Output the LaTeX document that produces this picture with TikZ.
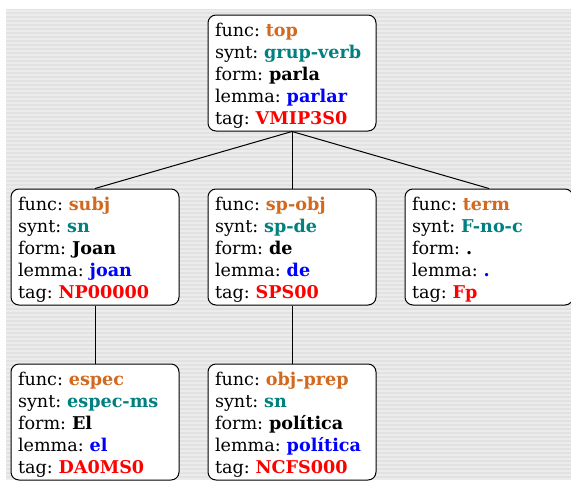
\documentclass[tikz,border=0pt]{standalone}
\usepackage{fontspec}
\setmainfont{DejaVu Serif}
\definecolor{funcc}{RGB}{210,105,30}
\definecolor{syntc}{RGB}{0,128,128}
\definecolor{lemmac}{RGB}{0,0,255}
\definecolor{tagc}{RGB}{255,0,0}
\definecolor{bgc}{RGB}{226,226,226}
\definecolor{stripec}{RGB}{236,236,236}
\newcommand{\featbox}[5]{func: \textbf{\textcolor{funcc}{#1}}\\synt: \textbf{\textcolor{syntc}{#2}}\\form: \textbf{#3}\\lemma: \textbf{\textcolor{lemmac}{#4}}\\tag: \textbf{\textcolor{tagc}{#5}}}
\tikzset{
  feat/.style={draw=black, fill=white, rounded corners=8pt, line width=1pt,
    minimum width=168pt, minimum height=116pt, inner sep=0pt},
  feattext/.style={inner sep=0pt, text width=154pt, align=left,
    font=\fontsize{17.6}{22}\selectfont\frenchspacing},
  edge/.style={draw=black, line width=1pt}
}
\begin{document}
\begin{tikzpicture}[x=1pt,y=-1pt]
\useasboundingbox (0,0) rectangle (571,480);
\clip (0,0) rectangle (571,480);
\fill[white] (0,0) rectangle (571,480);
\fill[bgc] (6,9) rectangle (571,480);
\foreach \yy in {10,14,...,480} \fill[stripec] (6,\yy) rectangle (571,\yy+2);
\node[feat] (top) at (292,73) {};
\node[feat] (subj) at (95,247) {};
\node[feat] (spobj) at (292,247) {};
\node[feat] (term) at (489,247) {};
\node[feat] (espec) at (95,422) {};
\node[feat] (objprep) at (292,422) {};
\node[feattext] (toptxt) at ([yshift=-3pt]top.center) {\featbox{top}{grup-verb}{parla}{parlar}{VMIP3S0}};
\node[feattext] (subjtxt) at ([yshift=-3pt]subj.center) {\featbox{subj}{sn}{Joan}{joan}{NP00000}};
\node[feattext] (spobjtxt) at ([yshift=-3pt]spobj.center) {\featbox{sp-obj}{sp-de}{de}{de}{SPS00}};
\node[feattext] (termtxt) at ([yshift=-3pt]term.center) {\featbox{term}{F-no-c}{.}{.}{Fp}};
\node[feattext] (espectxt) at ([yshift=-3pt]espec.center) {\featbox{espec}{espec-ms}{El}{el}{DA0MS0}};
\node[feattext] (objpreptxt) at ([yshift=-3pt]objprep.center) {\featbox{obj-prep}{sn}{política}{política}{NCFS000}};
\draw[edge] (top.south) -- (subj.north);
\draw[edge] (top.south) -- (spobj.north);
\draw[edge] (top.south) -- (term.north);
\draw[edge] (subj.south) -- (espec.north);
\draw[edge] (spobj.south) -- (objprep.north);
\end{tikzpicture}
\end{document}
